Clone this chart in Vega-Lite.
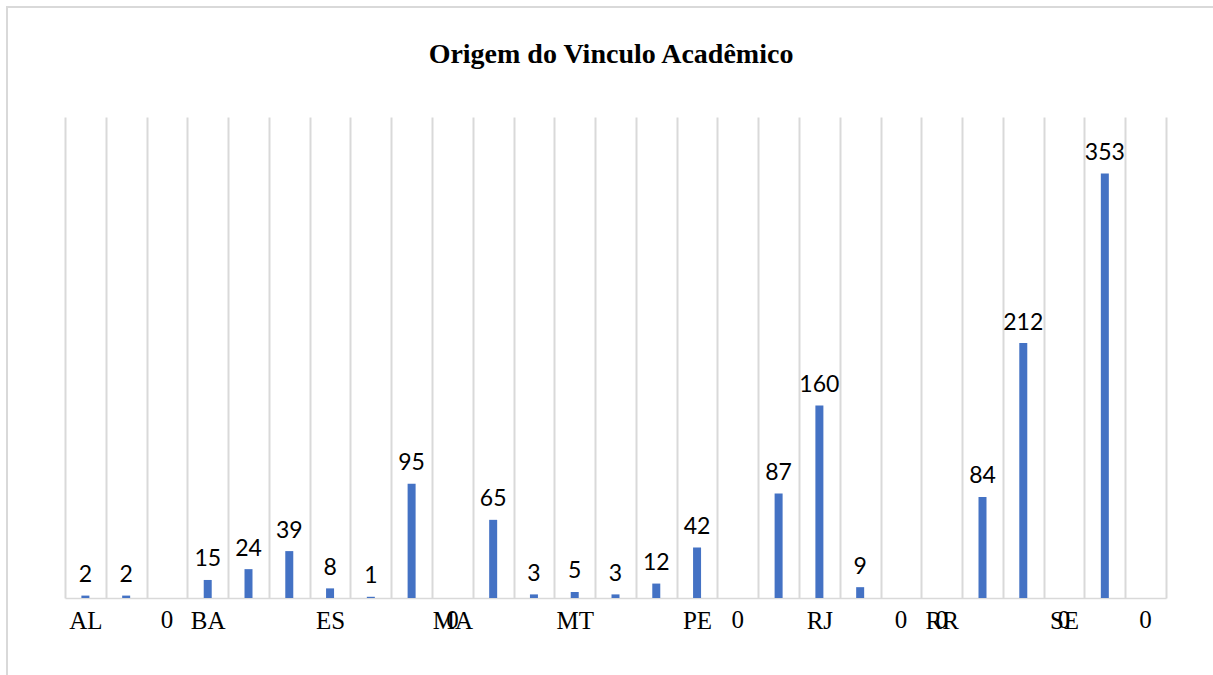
{
  "$schema": "https://vega.github.io/schema/vega-lite/v6.json",
  "width": 1208,
  "height": 701,
  "autosize": {"type": "none"},
  "padding": {"left": 7, "top": 7, "right": 0, "bottom": 0},
  "background": "white",
  "config": {"view": {"stroke": "#d9d9d9", "strokeWidth": 2}},
  "title": {
    "text": "Origem do Vinculo Acadêmico",
    "font": "Liberation Serif",
    "fontSize": 28,
    "fontWeight": "bold",
    "color": "#000000",
    "anchor": "middle",
    "baseline": "alphabetic",
    "offset": -84
  },
  "data": {
    "values": [
      {"uf": "AL", "n": 2},
      {"uf": "AM", "n": 2},
      {"uf": "AP", "n": 0},
      {"uf": "BA", "n": 15},
      {"uf": "CE", "n": 24},
      {"uf": "DF", "n": 39},
      {"uf": "ES", "n": 8},
      {"uf": "GO", "n": 1},
      {"uf": "EX", "n": 95},
      {"uf": "MA", "n": 0},
      {"uf": "MG", "n": 65},
      {"uf": "MS", "n": 3},
      {"uf": "MT", "n": 5},
      {"uf": "PA", "n": 3},
      {"uf": "PB", "n": 12},
      {"uf": "PE", "n": 42},
      {"uf": "PI", "n": 0},
      {"uf": "PR", "n": 87},
      {"uf": "RJ", "n": 160},
      {"uf": "RN", "n": 9},
      {"uf": "RO", "n": 0},
      {"uf": "RR", "n": 0},
      {"uf": "RS", "n": 84},
      {"uf": "SC", "n": 212},
      {"uf": "SE", "n": 0},
      {"uf": "SP", "n": 353},
      {"uf": "TO", "n": 0}
    ]
  },
  "encoding": {
    "x": {
      "field": "uf",
      "type": "nominal",
      "sort": null,
      "scale": {"range": [58, 1159], "paddingInner": 0, "paddingOuter": 0},
      "axis": {
        "title": null,
        "orient": "bottom",
        "offset": -110,
        "tickBand": "extent",
        "ticks": false,
        "tickSize": 0,
        "grid": true,
        "gridColor": "#d9d9d9",
        "gridWidth": 2,
        "domain": true,
        "domainColor": "#d9d9d9",
        "domainWidth": 1.5,
        "labelAngle": 0,
        "labelFont": "Liberation Serif",
        "labelFontSize": 25,
        "labelColor": "#000000",
        "labelBaseline": "alphabetic",
        "labelPadding": 30,
        "labelOverlap": false,
        "labelBound": false,
        "labelFlush": false,
        "labelExpr": "indexof(['AL','BA','ES','MA','MT','PE','RJ','RR','SE'], datum.value) >= 0 ? datum.value : ''"
      }
    },
    "y": {
      "field": "n",
      "type": "quantitative",
      "scale": {"domain": [0, 400], "range": [591, 110], "nice": false},
      "axis": null
    }
  },
  "layer": [
    {"mark": {"type": "bar", "size": 8, "color": "#4472C4"}},
    {
      "transform": [{"filter": "datum.n > 0"}],
      "mark": {"type": "text", "font": "Lato", "fontSize": 23, "color": "#000000", "baseline": "alphabetic", "dy": -13.5},
      "encoding": {"text": {"field": "n", "type": "quantitative"}}
    },
    {
      "transform": [{"filter": "datum.n == 0"}],
      "mark": {"type": "text", "font": "Liberation Serif", "fontSize": 25, "color": "#000000", "baseline": "alphabetic", "dy": 30},
      "encoding": {"text": {"field": "n", "type": "quantitative"}}
    }
  ]
}
